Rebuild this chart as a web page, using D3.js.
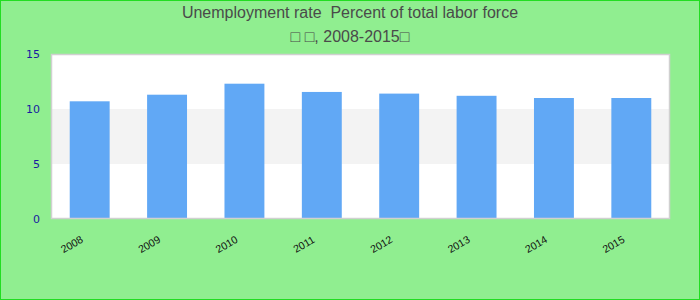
<!DOCTYPE html>
<html>
<meta charset="utf-8">
<script src="https://d3js.org/d3.v7.min.js"></script>
<style>
    body { margin: 0; }
    svg { display: block; font-family: "Liberation Sans", Arial, sans-serif; }
</style>
<body>
    <svg width="700" height="300"></svg>
    <script>
        const years = ["2008", "2009", "2010", "2011", "2012", "2013", "2014", "2015"];
        const rates = [10.7, 11.3, 12.3, 11.55, 11.4, 11.2, 11.0, 11.0];
        const yTicks = [0, 5, 10, 15];
        const titleLines = ["Unemployment rate  Percent of total labor force", "\u25A1 \u25A1, 2008-2015\u25A1"];

        let svg = d3.select("svg"),
            margin = { top: 54, right: 30, bottom: 81, left: 51 },
            width = +svg.attr("width") - margin.left - margin.right,
            height = +svg.attr("height") - margin.top - margin.bottom;

        // background + outer border
        svg.append("rect").attr("x", 0.5).attr("y", 0.5).attr("width", 699).attr("height", 299)
            .style("fill", "#90ee90").style("stroke", "#22dd22").style("stroke-width", 1);

        svg.selectAll("text.title")
            .data(titleLines)
            .enter().append("text")
            .attr("class", "title")
            .attr("x", 350)
            .attr("y", (d, i) => 18 + i * 24)
            .attr("text-anchor", "middle")
            .style("font-size", "16px")
            .style("white-space", "pre")
            .style("fill", "#4a4a4a")
            .text(d => d);

        let x = d3.scaleBand().domain(years).range([0, width]).paddingInner(0.484).paddingOuter(0.242),
            y = d3.scaleLinear().domain([0, 15]).range([height, 0]);

        let chart = svg.append("g").attr("transform", `translate(${margin.left},${margin.top})`);

        chart.append("rect").attr("width", width).attr("height", height).style("fill", "#fff");

        // alternating band 5-10
        chart.append("rect")
            .attr("x", 0).attr("width", width)
            .attr("y", y(10)).attr("height", y(5) - y(10))
            .style("fill", "#f3f3f3");

        chart.selectAll("rect.bar")
            .data(rates)
            .enter().append("rect")
            .attr("class", "bar")
            .attr("x", (d, i) => x(years[i]))
            .attr("width", x.bandwidth())
            .attr("y", d => y(d))
            .attr("height", d => height - y(d))
            .style("fill", "#61a8f5");

        chart.append("rect").attr("x", 0.5).attr("y", 0.5).attr("width", width - 1).attr("height", height - 1)
            .style("fill", "none").style("stroke", "#d0d0d0").style("stroke-width", 1.5);

        // y axis
        let yAxis = d3.axisLeft(y).tickValues(yTicks).tickSize(0).tickPadding(11);
        let gy = chart.append("g").call(yAxis);
        gy.select(".domain").remove();
        gy.selectAll("text").style("font-size", "11px").style("fill", "#1a1aa0")
            .style("font-family", "'DejaVu Sans', sans-serif");

        // x labels, rotated
        chart.selectAll("text.xlab")
            .data(years)
            .enter().append("text")
            .attr("class", "xlab")
            .attr("transform", d => `translate(${x(d) + x.bandwidth() / 2 - 18},${height + 25}) rotate(-30)`)
            .attr("text-anchor", "middle")
            .attr("dominant-baseline", "central")
            .style("font-size", "10.5px")
            .style("fill", "#111")
            .text(d => d);
    </script>
</body>
</html>
